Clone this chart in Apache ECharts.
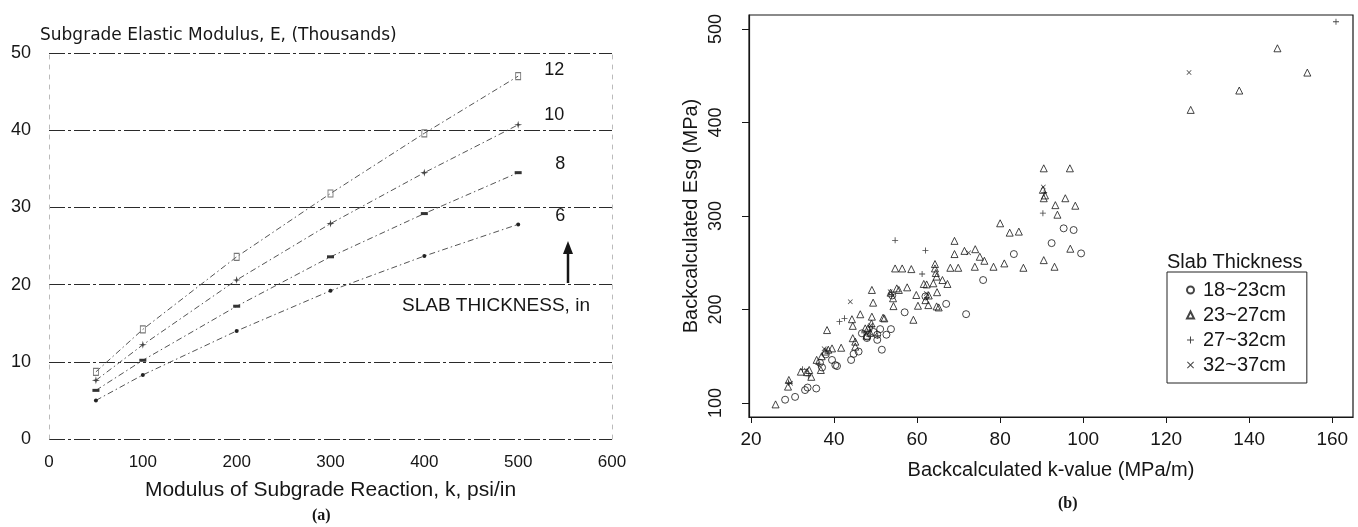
<!DOCTYPE html>
<html>
<head>
<meta charset="utf-8">
<script src="https://cdn.jsdelivr.net/npm/echarts@6/dist/echarts.min.js"></script>
<style>
  html, body { margin: 0; padding: 0; background: #fff; }
  #chart { width: 1358px; height: 527px; }
</style>
</head>
<body>
<div id="chart"></div>
<script>
// ---- Panel (a): E (thousands) against k (psi/in) for four slab thicknesses ----
const kValues = [50, 100, 200, 300, 400, 500];
const slabInches = ['12', '10', '8', '6'];
const eSlab12 = [8.7, 14.2, 23.6, 31.8, 39.6, 47.0];
const eSlab10 = [7.6, 12.2, 20.6, 27.9, 34.5, 40.7];
const eSlab8  = [6.3, 10.2, 17.2, 23.6, 29.2, 34.5];
const eSlab6  = [5.0, 8.3, 14.0, 19.2, 23.7, 27.8];

// ---- Panel (b): backcalculated k-value (MPa/m) vs Esg (MPa), grouped by slab thickness ----
const thicknessGroups = ['18~23cm', '23~27cm', '27~32cm', '32~37cm'];
const slab18to23 = [
  [28.2,103.5],[30.6,106.5],[33.0,113.8],[33.6,116.5],[35.7,115.5],[37.1,138.0],[36.6,143.0],
  [39.5,146.0],[40.3,140.5],[40.7,139.5],[38.0,152.0],[44.1,146.0],[44.7,152.5],[45.9,155.0],
  [46.7,174.5],[47.9,169.5],[48.0,171.0],[49.5,176.0],[50.4,167.5],[50.4,173.0],[51.5,157.0],
  [51.1,179.0],[52.6,173.0],[53.7,179.0],[57.0,197.0],[67.0,206.0],[71.8,195.0],[75.9,231.5],
  [83.3,259.3],[92.4,271.0],[95.3,286.8],[97.7,285.0],[99.5,260.0],[54.0,215.0],[62.0,214.0]
];
const slab23to27 = [
  [25.9,98.5],[28.9,117.5],[29.1,124.6],[32.0,133.5],[33.5,133.0],[34.0,135.3],[34.5,128.0],
  [35.8,146.1],[36.8,135.3],[37.0,150.0],[37.8,155.0],[38.6,157.0],[38.3,178.0],[39.5,158.4],
  [41.7,159.1],[44.3,189.6],[44.5,182.5],[44.5,169.3],[45.1,160.3],[45.1,165.6],[46.3,194.9],
  [47.5,179.8],[47.8,172.0],[48.2,180.0],[48.7,175.0],[49.0,185.0],[49.1,192.3],[49.1,220.9],
  [49.4,207.3],[52.1,190.5],[51.8,191.2],[53.6,218.0],[54.2,212.0],[54.3,203.6],[55.1,222.6],
  [55.6,220.9],[57.6,223.7],[59.1,189.0],[59.8,215.5],[60.2,204.0],[61.6,227.3],[62.0,210.0],
  [62.8,215.0],[62.7,204.7],[62.3,226.8],[63.9,228.0],[64.7,235.2],[64.5,239.0],[64.7,203.3],
  [64.8,218.5],[65.2,202.2],[66.1,231.5],[67.3,227.3],[54.7,243.9],[56.4,243.9],[58.6,243.2],
  [64.3,243.9],[64.3,248.6],[68.0,244.6],[69.9,244.6],[73.9,245.7],[78.4,245.7],[81.0,249.3],
  [85.6,244.6],[90.5,252.8],[93.1,245.7],[69.0,273.4],[69.0,259.3],[71.4,262.7],[74.0,264.5],
  [75.1,256.4],[76.2,252.1],[80.0,292.2],[82.3,282.2],[84.5,283.3],[90.3,328.0],[90.8,322.0],
  [90.5,351.0],[96.8,351.0],[90.5,319.0],[93.3,311.6],[95.7,319.0],[98.1,311.0],[93.8,301.4],
  [96.9,265.0],[125.9,413.5],[137.6,434.2],[146.8,479.4],[154.0,453.4]
];
const slab27to32 = [
  [29.0,122.0],[32.4,136.0],[33.8,129.0],[36.2,141.0],[38.3,156.0],[41.3,187.0],[42.5,190.5],
  [47.2,175.0],[48.5,178.0],[49.2,182.0],[50.5,172.0],[53.8,216.0],[54.7,274.0],[61.2,238.0],
  [62.0,263.0],[62.4,213.0],[90.3,303.0],[90.6,325.0],[160.9,507.8]
];
const slab32to37 = [
  [29.5,121.0],[33.3,135.0],[37.6,158.0],[43.9,208.3],[48.8,183.0],[53.5,219.0],[62.2,217.0],
  [72.4,260.6],[90.4,331.0],[125.5,453.4]
];
const kTicksB = [20, 40, 60, 80, 100, 120, 140, 160];
const esgTicks = [100, 200, 300, 400, 500];

const FONT = 'Liberation Sans, Arial, sans-serif';
const INK = '#161616';

const plusPath = 'path://M4.3,0H5.7V4.3H10V5.7H5.7V10H4.3V5.7H0V4.3H4.3Z';
const crossPath = 'path://M1,0L5,4L9,0L10,1L6,5L10,9L9,10L5,6L1,10L0,9L4,5L0,1Z';
const starPath = 'path://M5,0L6,4L10,5L6,6L5,10L4,6L0,5L4,4Z';
const dashPath = 'path://M0,3.5H10V6.5H0Z';

const slabSeries = [eSlab12, eSlab10, eSlab8, eSlab6];
const slabSymbols = [
  { symbol: 'rect', symbolSize: [5, 7], itemStyle: { color: 'rgba(0,0,0,0)', borderColor: '#777', borderWidth: 1 } },
  { symbol: starPath, symbolSize: 8, itemStyle: { color: '#444' } },
  { symbol: dashPath, symbolSize: [7, 3], itemStyle: { color: '#333' } },
  { symbol: 'circle', symbolSize: 4, itemStyle: { color: '#222' } }
];
const endLabelShift = [[36, -6], [36, -10], [42, -9], [42, -8]];

const lineSeries = slabSeries.map((vals, i) => Object.assign({
  name: slabInches[i],
  type: 'line',
  xAxisIndex: 0,
  yAxisIndex: 0,
  data: kValues.map((k, j) => [k, vals[j]]),
  lineStyle: { color: '#555', width: 1, type: [6, 3, 1.5, 3] },
  showAllSymbol: true,
  animation: false,
  endLabel: {
    show: true,
    formatter: '{a}',
    distance: 0,
    offset: endLabelShift[i],
    align: 'center',
    fontFamily: FONT,
    fontSize: 18,
    color: INK
  }
}, slabSymbols[i]));

const groupData = [slab18to23, slab23to27, slab27to32, slab32to37];
const groupSymbols = [
  { symbol: 'circle', symbolSize: 7, itemStyle: { color: 'rgba(0,0,0,0)', borderColor: INK, borderWidth: 1 } },
  { symbol: 'triangle', symbolSize: 7, itemStyle: { color: 'rgba(0,0,0,0)', borderColor: INK, borderWidth: 1 } },
  { symbol: plusPath, symbolSize: 6, itemStyle: { color: INK } },
  { symbol: crossPath, symbolSize: 5, itemStyle: { color: INK } }
];
const scatterSeries = groupData.map((pts, i) => Object.assign({
  name: thicknessGroups[i],
  type: 'scatter',
  xAxisIndex: 1,
  yAxisIndex: 2,
  data: pts,
  animation: false
}, groupSymbols[i]));

const gridLineA = { show: true, lineStyle: { color: '#2a2a2a', width: 1.2, type: [16, 3, 3, 3] } };

const option = {
  backgroundColor: '#fff',
  animation: false,
  title: [
    {
      text: 'Slab Thickness',
      left: 1162, top: 247,
      textStyle: { fontFamily: FONT, fontSize: 20, fontWeight: 'normal', color: INK }
    }
  ],
  legend: {
    data: thicknessGroups,
    orient: 'vertical',
    left: 1167, top: 272,
    padding: [8, 21, 8, 19],
    itemGap: 5,
    itemWidth: 7,
    itemHeight: 7,
    borderColor: '#222',
    borderWidth: 1,
    textStyle: { fontFamily: FONT, fontSize: 20, color: INK, padding: [0, 0, 0, 4] }
  },
  grid: [
    { left: 49, top: 53, width: 563, height: 386, show: false },
    { left: 749, top: 15, width: 604, height: 402, show: true, borderColor: INK, borderWidth: 1.2 }
  ],
  xAxis: [
    {
      gridIndex: 0, type: 'value', min: 0, max: 600, interval: 100,
      name: 'Modulus of Subgrade Reaction, k, psi/in',
      nameLocation: 'middle', nameGap: 41,
      nameTextStyle: { fontFamily: FONT, fontSize: 21, color: INK },
      axisLine: { show: false }, axisTick: { show: false }, splitLine: { show: false },
      axisLabel: { fontFamily: FONT, fontSize: 17, color: INK, margin: 15 }
    },
    {
      gridIndex: 1, type: 'value', min: 19.5, max: 165,
      name: 'Backcalculated k-value (MPa/m)',
      nameLocation: 'middle', nameGap: 43,
      nameTextStyle: { fontFamily: FONT, fontSize: 20, color: INK },
      axisLine: { show: true, onZero: false, lineStyle: { color: INK, width: 1.2 } },
      axisTick: { show: true, length: 6, lineStyle: { color: INK }, customValues: kTicksB },
      axisLabel: { fontFamily: FONT, fontSize: 19, color: INK, margin: 13, customValues: kTicksB },
      splitLine: { show: false }
    }
  ],
  yAxis: [
    {
      gridIndex: 0, type: 'value', min: 0, max: 50, interval: 10,
      axisLine: { show: true, lineStyle: { color: '#bbb', width: 1, type: [4, 6] } },
      axisTick: { show: false },
      axisLabel: { fontFamily: FONT, fontSize: 18, color: INK, margin: 18 },
      splitLine: gridLineA
    },
    {
      gridIndex: 0, type: 'value', min: 0, max: 50, interval: 10, position: 'right',
      axisLine: { show: true, lineStyle: { color: '#bbb', width: 1, type: [4, 6] } },
      axisTick: { show: false }, axisLabel: { show: false }, splitLine: { show: false }
    },
    {
      gridIndex: 1, type: 'value', min: 85, max: 515,
      name: 'Backcalculated Esg (MPa)',
      nameLocation: 'middle', nameGap: 48, nameRotate: 90,
      nameTextStyle: { fontFamily: FONT, fontSize: 20, color: INK },
      axisLine: { show: true, onZero: false, lineStyle: { color: INK, width: 1.2 } },
      axisTick: { show: true, length: 7, lineStyle: { color: INK }, customValues: esgTicks },
      axisLabel: { fontFamily: FONT, fontSize: 18, color: INK, rotate: 90, margin: 24, customValues: esgTicks },
      splitLine: { show: false }
    }
  ],
  graphic: [
    {
      type: 'text', left: 40, top: 27,
      style: { text: 'Subgrade Elastic Modulus, E, (Thousands)', font: '17px "DejaVu Sans"', fill: INK }
    },
    {
      type: 'text', left: 402, top: 296,
      style: { text: 'SLAB THICKNESS, in', font: '19px "Liberation Sans"', fill: INK }
    },
    {
      type: 'line', shape: { x1: 568, y1: 283, x2: 568, y2: 252 },
      style: { stroke: INK, lineWidth: 2.5 }
    },
    {
      type: 'polygon', shape: { points: [[563, 254], [573, 254], [568, 241]] },
      style: { fill: INK }
    },
    {
      type: 'text', left: 312, top: 508,
      style: { text: '(a)', font: 'bold 16px "Liberation Serif"', fill: INK }
    },
    {
      type: 'text', left: 1058, top: 496,
      style: { text: '(b)', font: 'bold 16px "Liberation Serif"', fill: INK }
    }
  ],
  series: lineSeries.concat(scatterSeries)
};

const chart = echarts.init(document.getElementById('chart'), null, { renderer: 'canvas' });
chart.setOption(option);
</script>
</body>
</html>
